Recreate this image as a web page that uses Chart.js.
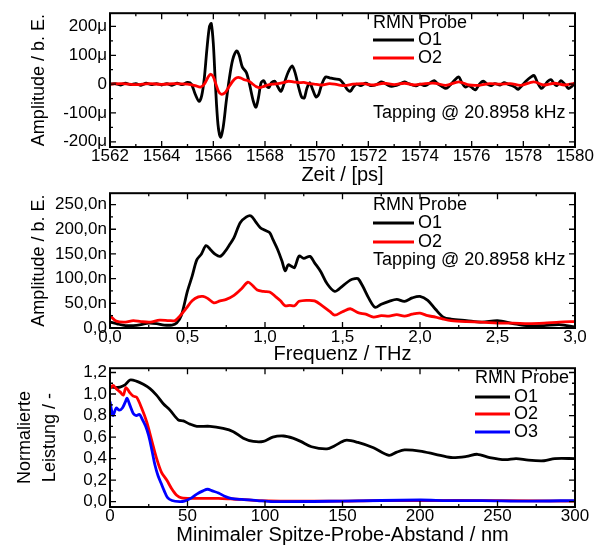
<!DOCTYPE html>
<html>
<head>
<meta charset="utf-8">
<script src="https://cdn.jsdelivr.net/npm/chart.js@4.4.0/dist/chart.umd.min.js"></script>
<style>
  body { margin: 0; background: #fff; }
  #wrap { position: relative; width: 607px; height: 547px; }
  canvas { position: absolute; left: 0; }
</style>
</head>
<body>
<div id="wrap">
  <canvas id="timeChart" width="607" height="185" style="top:0"></canvas>
  <canvas id="freqChart" width="607" height="184" style="top:180px"></canvas>
  <canvas id="distChart" width="607" height="192" style="top:355px"></canvas>
</div>
<script>
// ---- Zeit-Signal (ps, µ b.E.) ----
const timeO1X = [1562.0,1562.2,1562.4,1562.6,1562.8,1563.0,1563.2,1563.4,1563.6,1563.8,1564.0,1564.2,1564.4,1564.6,1564.8,1565.0,1565.15,1565.3,1565.45,1565.55,1565.65,1565.75,1565.85,1565.92,1566.0,1566.08,1566.18,1566.28,1566.38,1566.5,1566.62,1566.75,1566.9,1567.0,1567.12,1567.28,1567.4,1567.55,1567.65,1567.75,1567.85,1567.95,1568.05,1568.15,1568.25,1568.38,1568.5,1568.62,1568.75,1568.9,1569.05,1569.18,1569.3,1569.42,1569.52,1569.62,1569.73,1569.85,1569.98,1570.08,1570.2,1570.35,1570.5,1570.7,1570.9,1571.05,1571.2,1571.3,1571.42,1571.55,1571.7,1571.9,1572.1,1572.3,1572.5,1572.6,1572.75,1572.9,1573.05,1573.2,1573.4,1573.55,1573.7,1573.85,1574.0,1574.2,1574.4,1574.55,1574.7,1574.85,1575.0,1575.15,1575.3,1575.5,1575.62,1575.75,1575.9,1576.05,1576.15,1576.3,1576.45,1576.6,1576.75,1576.9,1577.1,1577.25,1577.4,1577.55,1577.7,1577.8,1577.95,1578.1,1578.3,1578.42,1578.55,1578.7,1578.82,1578.95,1579.08,1579.2,1579.3,1579.45,1579.55,1579.65,1579.75,1579.85,1580.0];
const timeO1Y = [0,2,-3,3,-2,2,-4,3,-2,2,-3,2,-4,3,-2,6,0,-35,-60,-40,20,120,200,210,140,0,-140,-184,-150,-60,20,85,115,100,60,40,0,-60,-80,-45,5,12,-5,-12,5,10,-10,-25,5,42,63,35,-10,-45,-48,-15,5,-20,-45,-35,0,25,22,18,15,0,-20,-25,-10,0,-5,3,-5,-2,8,5,-3,-8,-5,0,8,2,-3,-6,0,-5,5,12,0,-8,-15,-5,10,25,5,-10,-5,-15,-20,0,10,0,-5,2,-3,5,0,-5,-12,-18,-5,10,25,30,5,-15,-5,10,15,0,-5,12,5,-5,-15,-10,5];
const timeO2X = [1562.0,1562.5,1563.0,1563.5,1564.0,1564.5,1565.0,1565.3,1565.5,1565.65,1565.8,1565.9,1566.0,1566.1,1566.2,1566.3,1566.45,1566.6,1566.75,1566.9,1567.05,1567.2,1567.35,1567.5,1567.65,1567.8,1567.95,1568.1,1568.3,1568.5,1568.7,1568.9,1569.1,1569.3,1569.5,1569.7,1569.9,1570.2,1570.5,1570.8,1571.1,1571.4,1571.8,1572.2,1572.6,1573.0,1573.4,1573.8,1574.2,1574.6,1575.0,1575.5,1575.9,1576.3,1576.7,1577.1,1577.5,1577.9,1578.4,1578.8,1579.2,1579.6,1580.0];
const timeO2Y = [0,2,-2,2,-1,2,0,-5,-10,0,25,35,25,0,-25,-35,-30,-10,10,22,22,15,12,2,-8,-12,-8,-3,0,2,5,10,8,5,6,2,0,-3,2,-2,-5,0,2,-3,3,-2,3,-3,2,3,-4,8,-3,-4,2,0,2,-4,8,-3,3,-3,3];

// ---- Spektrum (THz, n b.E.) ----
const freqO1X = [0.0,0.05,0.1,0.15,0.2,0.25,0.3,0.35,0.4,0.43,0.46,0.5,0.53,0.56,0.59,0.62,0.65,0.68,0.71,0.74,0.77,0.8,0.84,0.88,0.91,0.94,0.97,1.0,1.03,1.05,1.08,1.11,1.13,1.15,1.17,1.19,1.22,1.25,1.29,1.32,1.36,1.4,1.45,1.5,1.55,1.58,1.6,1.63,1.67,1.71,1.75,1.8,1.85,1.9,1.95,2.0,2.05,2.1,2.15,2.2,2.3,2.4,2.5,2.6,2.7,2.8,2.9,3.0];
const freqO1Y = [12,8,5,5,7,10,9,6,6,10,25,75,105,138,150,167,158,149,145,154,168,183,213,225,227,215,203,198,193,180,160,135,116,128,125,122,146,141,145,132,114,90,74,85,97,100,100,85,60,42,48,54,58,54,61,64,56,38,22,18,15,12,15,9,4,5,7,2];
const freqO2X = [0.0,0.04,0.1,0.15,0.2,0.26,0.32,0.38,0.42,0.45,0.49,0.53,0.57,0.6,0.63,0.67,0.71,0.75,0.8,0.85,0.89,0.92,0.95,0.99,1.03,1.07,1.1,1.13,1.16,1.19,1.22,1.27,1.32,1.37,1.42,1.45,1.5,1.55,1.6,1.65,1.7,1.75,1.8,1.85,1.9,1.95,2.0,2.05,2.1,2.15,2.2,2.3,2.4,2.5,2.6,2.7,2.8,2.9,3.0];
const freqO2Y = [25,14,12,15,13,12,16,15,15,24,39,55,63,64,60,51,55,58,66,80,93,86,77,74,73,63,55,45,46,45,54,56,55,45,33,26,33,39,31,28,22,25,24,27,24,28,30,25,22,18,15,13,12,10,10,9,10,12,13];

// ---- Abstandskurven (nm, normiert) ----
const distO1X = [0,3,6.5,9.7,12.9,17,21.5,25.8,30,34.4,38.7,44,47.3,51.6,56,64.5,73,79.6,86,92.5,99,105,112,118,123,130,140,145,152,160,170,180,185,190,200,210,220,230,237,245,255,262,270,280,287,300];
const distO1Y = [1.065,1.06,1.065,1.085,1.13,1.12,1.09,1.05,0.99,0.91,0.85,0.76,0.75,0.72,0.70,0.70,0.68,0.65,0.59,0.56,0.56,0.60,0.61,0.59,0.56,0.51,0.49,0.52,0.57,0.55,0.50,0.43,0.46,0.48,0.47,0.44,0.41,0.42,0.44,0.41,0.39,0.40,0.385,0.38,0.40,0.40];
const distO2X = [0,2,4,6.5,8.6,10.3,12.9,15,17.2,20.4,23.7,26.9,30.1,33.3,36.6,39.8,43,46.2,54,62,70,78,85,95,110,150,170,200,250,300];
const distO2Y = [1.05,1.08,1.05,1.02,0.99,1.06,1.01,0.98,0.97,0.87,0.74,0.57,0.40,0.27,0.20,0.12,0.06,0.035,0.03,0.03,0.03,0.025,0.02,0.01,0.005,0.005,0.01,0.01,0.01,0.005];
const distO3X = [0,1,2,4,6,8,10,11,13,15,17,19,21,23,25,27,29,31,33,35,37,40,45,48,52,56,60,63,66,70,74,78,85,95,105,150,200,218,240,270,300];
const distO3Y = [0.93,0.85,0.80,0.87,0.85,0.87,0.93,0.96,0.89,0.82,0.80,0.81,0.76,0.70,0.61,0.48,0.34,0.24,0.17,0.10,0.04,0.01,0.0,0.005,0.03,0.07,0.10,0.115,0.10,0.08,0.05,0.03,0.02,0.01,0.0,0.005,0.015,0.01,0.01,0.005,0.01];

const seriesNames = ["O1", "O2", "O3"];
const seriesColors = ["#000000", "#ff0000", "#0000ff"];
const legendTitle = "RMN Probe";
const tappingNote = "Tapping @ 20.8958 kHz";

const FONT = "'Liberation Sans', Arial, sans-serif";
const comma = (v, d) => v.toFixed(d).replace(".", ",");

function pts(xs, ys) {
  return xs.map((x, i) => ({ x, y: ys[i] }));
}

// Rahmen mit Ticks nach innen (alle 4 Seiten) + Legende im Plot
function drawFrame(chart) {
  const { ctx, chartArea: a, scales } = chart;
  ctx.save();
  ctx.strokeStyle = "#000";
  ctx.lineWidth = 2;
  ctx.strokeRect(a.left, a.top, a.right - a.left, a.bottom - a.top);
  ctx.lineWidth = 1.3;
  [scales.x, scales.y].forEach(scale => {
    const horiz = scale.isHorizontal();
    const vals = scale.ticks.map(t => t.value);
    const step = vals[1] - vals[0];
    for (let k = -1; k < vals.length * 2 + 2; k++) {
      const v = vals[0] + k * step / 2;
      if (v < scale.min - 1e-9 || v > scale.max + 1e-9) continue;
      const p = scale.getPixelForValue(v);
      const len = k % 2 === 0 ? 6 : 3;
      ctx.beginPath();
      if (horiz) {
        ctx.moveTo(p, a.bottom); ctx.lineTo(p, a.bottom - len);
        ctx.moveTo(p, a.top); ctx.lineTo(p, a.top + len);
      } else {
        ctx.moveTo(a.left, p); ctx.lineTo(a.left + len, p);
        ctx.moveTo(a.right, p); ctx.lineTo(a.right - len, p);
      }
      ctx.stroke();
    }
  });
  ctx.restore();
}

function drawLegend(chart, o) {
  const ctx = chart.ctx;
  ctx.save();
  ctx.font = `18px ${FONT}`;
  ctx.fillStyle = "#000";
  ctx.textBaseline = "middle";
  ctx.fillText(legendTitle, o.x, o.rows[0]);
  chart.data.datasets.forEach((ds, i) => {
    const y = o.rows[i + 1];
    ctx.strokeStyle = ds.borderColor;
    ctx.lineWidth = 2.8;
    ctx.beginPath();
    ctx.moveTo(o.x, y);
    ctx.lineTo(o.x + o.lineLen, y);
    ctx.stroke();
    ctx.fillText(ds.label, o.x + o.lineLen + 4, y);
  });
  if (o.note) ctx.fillText(tappingNote, o.x, o.note);
  ctx.restore();
}

const decorPlugin = {
  id: "decor",
  afterDraw(chart, args, opts) {
    drawFrame(chart);
    drawLegend(chart, opts);
  }
};

function makePanel(id, cfg) {
  const canvas = document.getElementById(id);
  const H = canvas.height;
  return new Chart(canvas, {
    type: "line",
    data: {
      datasets: cfg.series.map((s, i) => ({
        label: seriesNames[i],
        data: pts(s[0], s[1]),
        borderColor: seriesColors[i],
        borderWidth: 2.8,
        pointRadius: 0,
        tension: 0.3,
        fill: false,
        order: 3 - i
      }))
    },
    options: {
      responsive: false,
      animation: false,
      devicePixelRatio: 1,
      layout: { padding: { top: 7, right: 32, left: 0, bottom: 0 } },
      plugins: {
        legend: { display: false },
        tooltip: { enabled: false },
        decor: cfg.legend
      },
      scales: {
        x: {
          type: "linear",
          min: cfg.xMin, max: cfg.xMax,
          grid: { display: false, drawTicks: false },
          border: { display: false },
          ticks: {
            stepSize: cfg.xStep, includeBounds: false, maxRotation: 0,
            autoSkip: false, padding: 1, color: "#000",
            font: { family: FONT, size: 17, lineHeight: 1 },
            callback: cfg.xFmt
          },
          title: {
            display: true, text: cfg.xTitle, color: "#000",
            font: { family: FONT, size: 20, lineHeight: 1 },
            padding: { top: 0, bottom: cfg.xTitlePad }
          },
          afterFit: s => { s.height = H - 7 - cfg.areaH; }
        },
        y: {
          min: cfg.yMin, max: cfg.yMax,
          grid: { display: false, drawTicks: false },
          border: { display: false },
          ticks: {
            stepSize: cfg.yStep, includeBounds: false, autoSkip: false,
            padding: 3, color: "#000",
            font: { family: FONT, size: 17 },
            callback: cfg.yFmt
          },
          title: {
            display: true, text: cfg.yTitle, color: "#000",
            font: { family: FONT, size: 18, lineHeight: cfg.yTitleLH },
            padding: { top: cfg.yTitlePad, bottom: 0 }
          },
          afterFit: s => { s.width = 110; }
        }
      }
    },
    plugins: [decorPlugin]
  });
}

makePanel("timeChart", {
  series: [[timeO1X, timeO1Y], [timeO2X, timeO2Y]],
  xMin: 1562, xMax: 1580, xStep: 2, xFmt: v => String(v),
  yMin: -218, yMax: 246, yStep: 100, yFmt: v => (v === 0 ? "0" : v + "\u03bc"),
  xTitle: "Zeit / [ps]", yTitle: "Amplitude / b. E.",
  areaH: 140, xTitlePad: 0, yTitlePad: 28, yTitleLH: 1.2,
  legend: { x: 373, lineLen: 41, rows: [23, 40, 58], note: 113 }
});

makePanel("freqChart", {
  series: [[freqO1X, freqO1Y], [freqO2X, freqO2Y]],
  xMin: 0, xMax: 3, xStep: 0.5, xFmt: v => comma(v, 1),
  yMin: 0, yMax: 273, yStep: 50, yFmt: v => (v === 0 ? "0,0" : comma(v, 1) + "n"),
  xTitle: "Frequenz / THz", yTitle: "Amplitude / b. E.",
  areaH: 141, xTitlePad: 0, yTitlePad: 28, yTitleLH: 1.2,
  legend: { x: 373, lineLen: 41, rows: [25, 43, 62], note: 80 }
});

makePanel("distChart", {
  series: [[distO1X, distO1Y], [distO2X, distO2Y], [distO3X, distO3Y]],
  xMin: 0, xMax: 300, xStep: 50, xFmt: v => String(v),
  yMin: -0.05, yMax: 1.24, yStep: 0.2, yFmt: v => comma(v, 1),
  xTitle: "Minimaler Spitze-Probe-Abstand / nm", yTitle: ["Normalierte", "Leistung / -"],
  areaH: 145, xTitlePad: 2, yTitlePad: 12, yTitleLH: 1.4,
  legend: { x: 475, lineLen: 35, rows: [23, 42, 59, 77], note: null }
});
</script>
</body>
</html>
